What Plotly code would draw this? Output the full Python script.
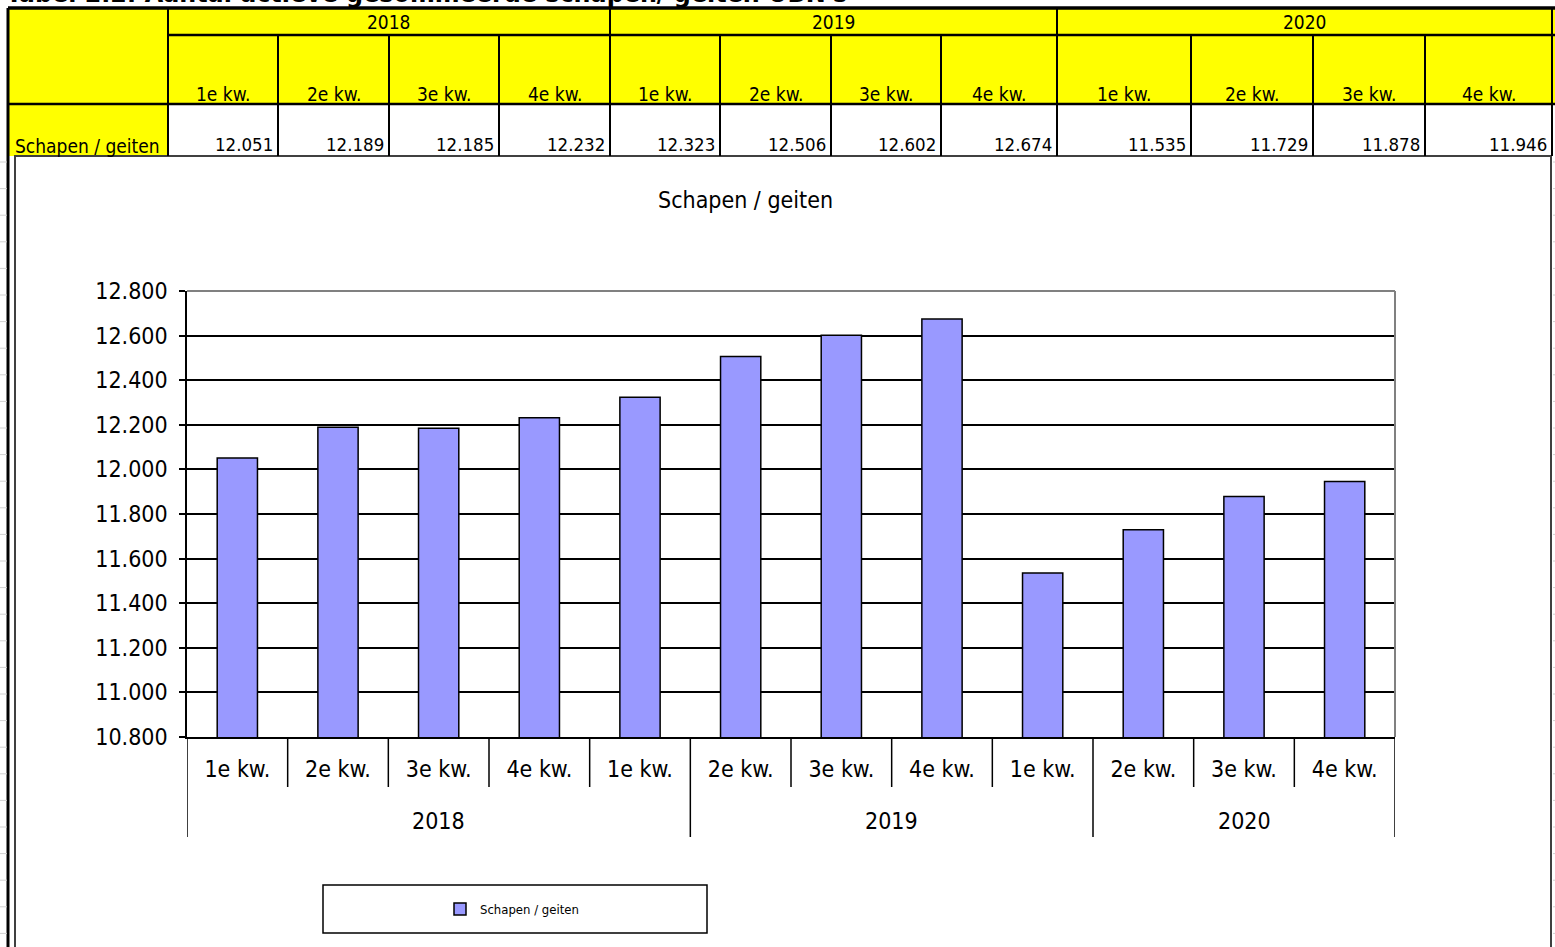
import plotly.graph_objects as go

# ---------------- data ----------------
years = ["2018", "2019", "2020"]
quarters = ["1e kw.", "2e kw.", "3e kw.", "4e kw."]
values = [12051, 12189, 12185, 12232,
          12323, 12506, 12602, 12674,
          11535, 11729, 11878, 11946]
value_labels = ["12.051", "12.189", "12.185", "12.232",
                "12.323", "12.506", "12.602", "12.674",
                "11.535", "11.729", "11.878", "11.946"]
series_name = "Schapen / geiten"
table_title = "Tabel 2.2: Aantal actieve gesommeerde schapen/ geiten UBN's"
# group labels as drawn under the chart's category axis (label, number of categories)
chart_groups = [("2018", 5), ("2019", 4), ("2020", 3)]
y_ticks = [10800, 11000, 11200, 11400, 11600, 11800, 12000, 12200, 12400, 12600, 12800]

# ---------------- layout constants ----------------
W, H = 1555, 947
PL, PR, PT, PB = 187, 1395, 291, 737      # plot area in pixels
FONT = "Liberation Sans Narrow, DejaVu Sans Condensed, Arial Narrow, sans-serif"
AXF = 23   # axis font size
TBF = 19   # table font size


def px(xp):
    return (xp - PL) / (PR - PL)


def py(yp):
    return (PB - yp) / (PB - PT)


cat_labels = [quarters[i % 4] for i in range(len(values))]
xpos = list(range(len(values)))

fig = go.Figure()
fig.add_trace(go.Bar(
    x=xpos, y=values, name=series_name, width=0.4,
    marker=dict(color="#9999FF", line=dict(color="black", width=1.5)),
    showlegend=True,
))

shapes = []
annotations = []


def line(x0, y0, x1, y1, w=1.5, c="black"):
    shapes.append(dict(type="line", xref="paper", yref="paper",
                       x0=px(x0), y0=py(y0), x1=px(x1), y1=py(y1),
                       line=dict(color=c, width=w), layer="above"))


def rect(x0, y0, x1, y1, fill, lc=None, w=0):
    shapes.append(dict(type="rect", xref="paper", yref="paper",
                       x0=px(x0), y0=py(y0), x1=px(x1), y1=py(y1),
                       fillcolor=fill, line=dict(color=lc or fill, width=w),
                       layer="below"))


def text(t, x, y, size=TBF, xanchor="center", yanchor="middle", bold=False):
    annotations.append(dict(text=("<b>%s</b>" % t) if bold else t,
                            xref="paper", yref="paper", x=px(x), y=py(y),
                            xanchor=xanchor, yanchor=yanchor, showarrow=False,
                            font=dict(family=FONT, size=size, color="black")))


# ---------------- spreadsheet table ----------------
col_x = [8, 168, 278, 389, 499, 610, 720, 831, 941, 1057, 1191, 1313, 1425, 1552]
year_x = [168, 610, 1057, 1552]
R0, R1, R2, R3 = 8, 35, 104, 156

rect(8, R0, 1555, R2, "#FFFF00")
rect(8, R2, col_x[1], R3, "#FFFF00")
rect(col_x[1], R2, 1555, R3, "white")

line(8, R0, 1555, R0, 3.5)
line(col_x[1], R1, 1555, R1, 2.5)
line(8, R2, 1555, R2, 2.5)
line(8, R0, 8, H, 3)
for xx in year_x:
    line(xx, R0, xx, R3, 2)
for xx in col_x[1:]:
    if xx not in year_x:
        line(xx, R1, xx, R3, 2)

text(table_title, 4, 10, size=26.5, xanchor="left", yanchor="bottom", bold=True)
for i, yr in enumerate(years):
    text(yr, (year_x[i] + year_x[i + 1]) / 2, 22)
for i in range(len(values)):
    text(cat_labels[i], (col_x[i + 1] + col_x[i + 2]) / 2, 94)
    text(value_labels[i], col_x[i + 2] - 3, 145, size=18.5, xanchor="right")
text(series_name, 13, 146, xanchor="left")

# spreadsheet row marks left / right
for k in range(30):
    yy = 162 + k * 26.6
    if yy > H:
        break
    line(0, yy, 7, yy, 1, "#d0d0d0")
    line(1553, yy, 1555, yy, 1, "#d0d0d0")

# ---------------- chart box ----------------
shapes.append(dict(type="rect", xref="paper", yref="paper",
                   x0=px(15), y0=py(156), x1=px(1551), y1=py(960),
                   fillcolor="white", line=dict(color="#404040", width=2), layer="below"))

# plot area top/right border (gray)
line(PL, PT, PR, PT, 2, "#808080")
line(PR, PT, PR, PB, 2, "#808080")

# category separators
bounds = [-0.5]
for _, n in chart_groups:
    bounds.append(bounds[-1] + n)
for i in range(len(values) + 1):
    b = i - 0.5
    y_end = 837 if b in bounds else 787
    shapes.append(dict(type="line", xref="x", yref="paper",
                       x0=b, x1=b, y0=py(PB), y1=py(y_end),
                       line=dict(color="black", width=1.5), layer="above"))
for gi, (g, n) in enumerate(chart_groups):
    c = (bounds[gi] + bounds[gi + 1]) / 2
    annotations.append(dict(text=g, xref="x", yref="paper", x=c, y=py(821),
                            xanchor="center", yanchor="middle", showarrow=False,
                            font=dict(family=FONT, size=AXF, color="black")))

# chart title
text(series_name, 745, 200, size=AXF)

# legend box
shapes.append(dict(type="rect", xref="paper", yref="paper",
                   x0=px(323), y0=py(885), x1=px(707), y1=py(933),
                   fillcolor="white", line=dict(color="black", width=1.5), layer="below"))

fig.update_layout(
    width=W, height=H,
    margin=dict(l=PL, r=W - PR, t=PT, b=H - PB, pad=0),
    paper_bgcolor="white", plot_bgcolor="#C0C0C0",
    separators=",.",
    font=dict(family=FONT, size=AXF, color="black"),
    shapes=shapes, annotations=annotations,
    showlegend=True,
    legend=dict(x=px(440), y=py(909), xanchor="left", yanchor="middle",
                orientation="h", bgcolor="rgba(0,0,0,0)",
                font=dict(family=FONT, size=13, color="black"),
                itemwidth=30),
    xaxis=dict(range=[-0.5, len(values) - 0.5], tickmode="array",
               tickvals=xpos, ticktext=cat_labels, showgrid=False,
               showline=True, linecolor="black", linewidth=1.5,
               ticks="", zeroline=False, ticklabelstandoff=11,
               tickfont=dict(family=FONT, size=AXF, color="black")),
    yaxis=dict(range=[y_ticks[0], y_ticks[-1]], tickmode="array",
               tickvals=y_ticks, tickformat=",.0f",
               showgrid=True, gridcolor="black", gridwidth=1.5,
               showline=True, linecolor="black", linewidth=1.5,
               ticks="outside", ticklen=6, tickwidth=1.5, tickcolor="black",
               zeroline=False, ticklabelstandoff=7,
               tickfont=dict(family=FONT, size=AXF, color="black")),
    bargap=0.6,
)

fig.write_html("out.html", config={"displayModeBar": False},
               post_script="document.body.style.margin='0';document.body.style.overflow='hidden';")
